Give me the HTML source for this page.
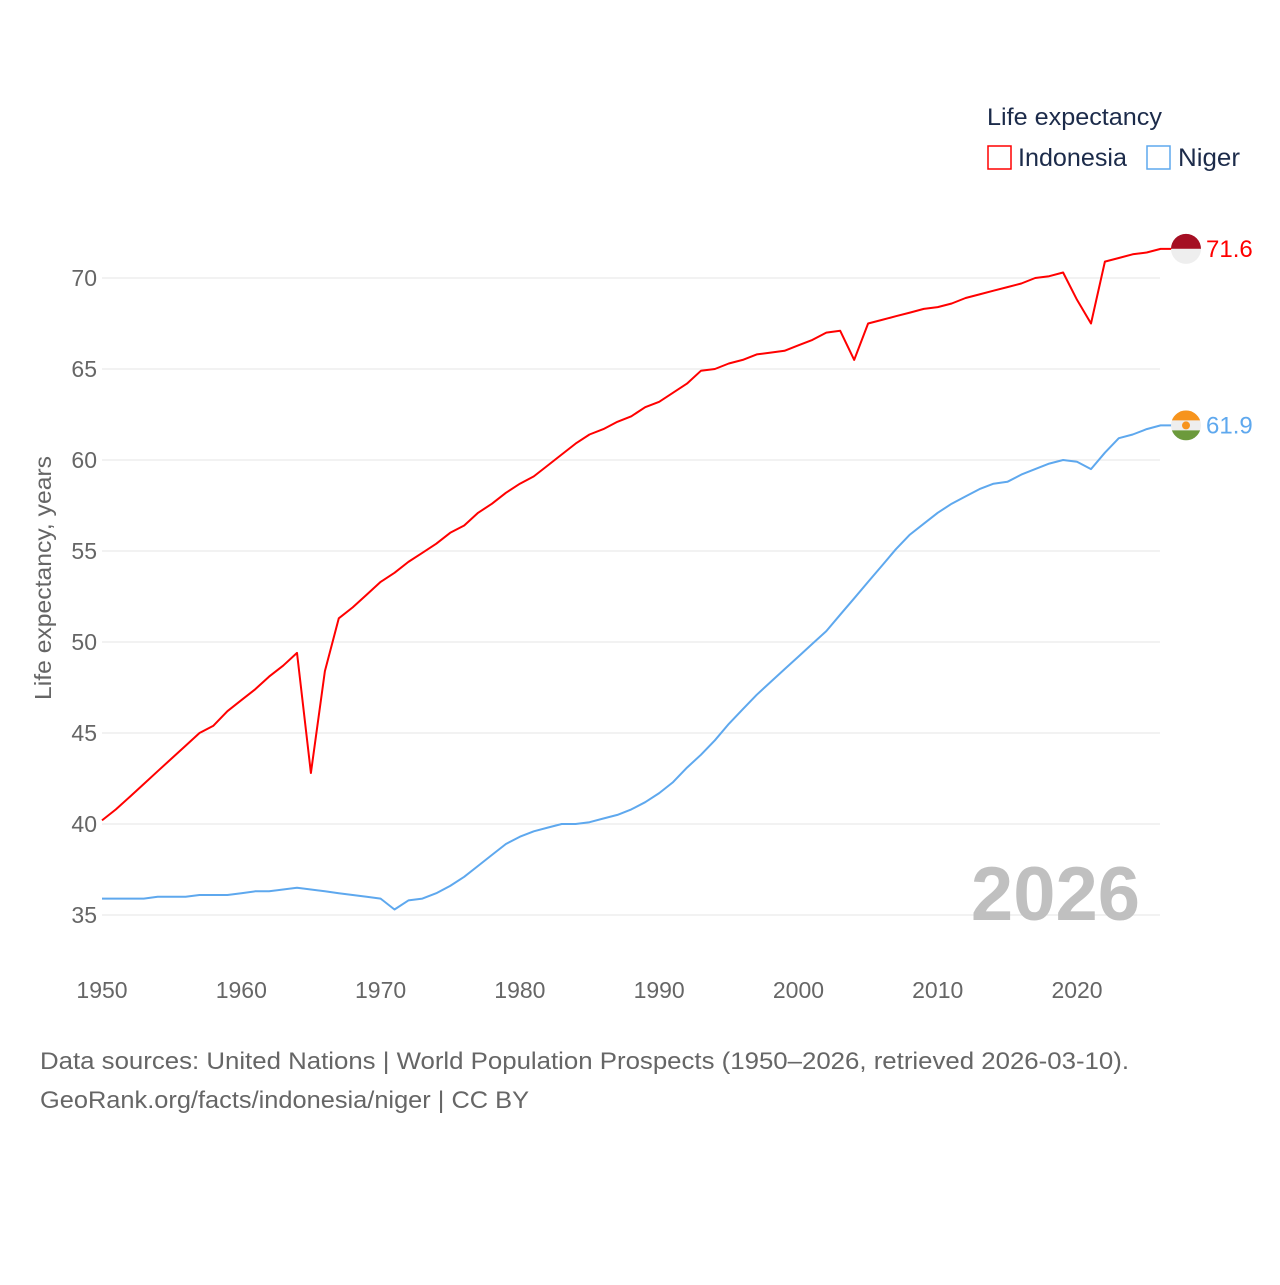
<!DOCTYPE html>
<html><head><meta charset="utf-8"><style>
html,body{margin:0;padding:0;background:#fff;}
svg text{font-family:"Liberation Sans",sans-serif;}
</style></head><body>
<svg id="chart" width="1280" height="1280" xmlns="http://www.w3.org/2000/svg">
<g id="grid"></g><g id="yticks"></g><g id="xticks"></g>
<text transform="translate(51,578) rotate(-90)" text-anchor="middle" font-size="23" fill="#666" textLength="244" lengthAdjust="spacingAndGlyphs">Life expectancy, years</text>
<text x="1140" y="920" text-anchor="end" font-size="76" font-weight="bold" fill="#c0c0c0">2026</text>
<g id="series"></g>
<text x="987" y="125" font-size="24" fill="#1c2b4a" textLength="175" lengthAdjust="spacingAndGlyphs">Life expectancy</text>
<g><rect x="988" y="146" width="23" height="23" fill="none" stroke="#ff0000" stroke-width="1.5"/><text x="1018" y="166" font-size="25" fill="#1c2b4a" textLength="109" lengthAdjust="spacingAndGlyphs">Indonesia</text></g>
<g><rect x="1147" y="146" width="23" height="23" fill="none" stroke="#5ea8ee" stroke-width="1.5"/><text x="1178" y="166" font-size="25" fill="#1c2b4a" textLength="62" lengthAdjust="spacingAndGlyphs">Niger</text></g>
<text x="40" y="1069" font-size="24" fill="#666" textLength="1089" lengthAdjust="spacingAndGlyphs">Data sources: United Nations | World Population Prospects (1950–2026, retrieved 2026-03-10).</text>
<text x="40" y="1108" font-size="24" fill="#666" textLength="489" lengthAdjust="spacingAndGlyphs">GeoRank.org/facts/indonesia/niger | CC BY</text>
</svg>
<script>
const years=[];for(let y=1950;y<=2026;y++)years.push(y);
const indonesia=[40.2,40.8,41.5,42.2,42.9,43.6,44.3,45.0,45.4,46.2,46.8,47.4,48.1,48.7,49.4,42.8,48.4,51.3,51.9,52.6,53.3,53.8,54.4,54.9,55.4,56.0,56.4,57.1,57.6,58.2,58.7,59.1,59.7,60.3,60.9,61.4,61.7,62.1,62.4,62.9,63.2,63.7,64.2,64.9,65.0,65.3,65.5,65.8,65.9,66.0,66.3,66.6,67.0,67.1,65.5,67.5,67.7,67.9,68.1,68.3,68.4,68.6,68.9,69.1,69.3,69.5,69.7,70.0,70.1,70.3,68.8,67.5,70.9,71.1,71.3,71.4,71.6];
const niger=[35.9,35.9,35.9,35.9,36.0,36.0,36.0,36.1,36.1,36.1,36.2,36.3,36.3,36.4,36.5,36.4,36.3,36.2,36.1,36.0,35.9,35.3,35.8,35.9,36.2,36.6,37.1,37.7,38.3,38.9,39.3,39.6,39.8,40.0,40.0,40.1,40.3,40.5,40.8,41.2,41.7,42.3,43.1,43.8,44.6,45.5,46.3,47.1,47.8,48.5,49.2,49.9,50.6,51.5,52.4,53.3,54.2,55.1,55.9,56.5,57.1,57.6,58.0,58.4,58.7,58.8,59.2,59.5,59.8,60.0,59.9,59.5,60.4,61.2,61.4,61.7,61.9];
const yTicks=[35,40,45,50,55,60,65,70];
const xTicks=[1950,1960,1970,1980,1990,2000,2010,2020];
const NS='http://www.w3.org/2000/svg';
const X0=102,X1=1160.6,Y35=915,Y70=278;
const xs=y=>X0+(y-1950)*(X1-X0)/(2026-1950);
const ys=v=>Y35+(v-35)*(Y70-Y35)/35;
function mk(tag,attrs,parent){const e=document.createElementNS(NS,tag);for(const k in attrs)e.setAttribute(k,attrs[k]);parent.appendChild(e);return e;}
const grid=document.getElementById('grid'),yt=document.getElementById('yticks'),xt=document.getElementById('xticks'),sg=document.getElementById('series');
yTicks.forEach(v=>{
 const l=mk('line',{x1:X0,x2:1160,y1:ys(v),y2:ys(v),stroke:'#e6e6e6','stroke-width':1},grid);
 
 
 const t=mk('text',{x:97,y:ys(v)+8,'text-anchor':'end','font-size':23,fill:'#666'},yt);t.textContent=v;
 
 
});
xTicks.forEach(v=>{
 const t=mk('text',{x:xs(v),y:998,'text-anchor':'middle','font-size':23,fill:'#666'},xt);t.textContent=v;
 
 
});
function series(vals,color,name,flag){
 const d=vals.map((v,i)=>(i?'L':'M')+xs(years[i]).toFixed(1)+','+ys(v).toFixed(1)).join(' ');
 const last=vals[vals.length-1],ly=ys(last);
 const p=mk('path',{d:d+' L1172,'+ly.toFixed(1),fill:'none',stroke:color,'stroke-width':2,'stroke-linejoin':'round'},sg);
 
 
 const g=mk('g',{},sg);
 
 
 flag(g,1186,ly);
 const t=mk('text',{x:1206,y:ly+8,'font-size':24,fill:color},sg);t.textContent=last.toFixed(1);
 
 
}
series(indonesia,'#ff0000','indonesia',(g,cx,cy)=>{
 mk('path',{d:`M${cx-15},${cy} A15,15 0 0 1 ${cx+15},${cy} Z`,fill:'#a50f23'},g);
 mk('path',{d:`M${cx-15},${cy} A15,15 0 0 0 ${cx+15},${cy} Z`,fill:'#eeeeee'},g);
});
series(niger,'#5ea8ee','niger',(g,cx,cy)=>{
 mk('circle',{cx:cx,cy:cy,r:15,fill:'#eeeeee'},g);
 mk('path',{d:`M${cx-14.1},${cy-5} A15,15 0 0 1 ${cx+14.1},${cy-5} Z`,fill:'#f7941d'},g);
 mk('path',{d:`M${cx-14.1},${cy+5} A15,15 0 0 0 ${cx+14.1},${cy+5} Z`,fill:'#6c9a3c'},g);
 mk('circle',{cx:cx,cy:cy,r:4,fill:'#f7941d'},g);
});
</script>
</body></html>
